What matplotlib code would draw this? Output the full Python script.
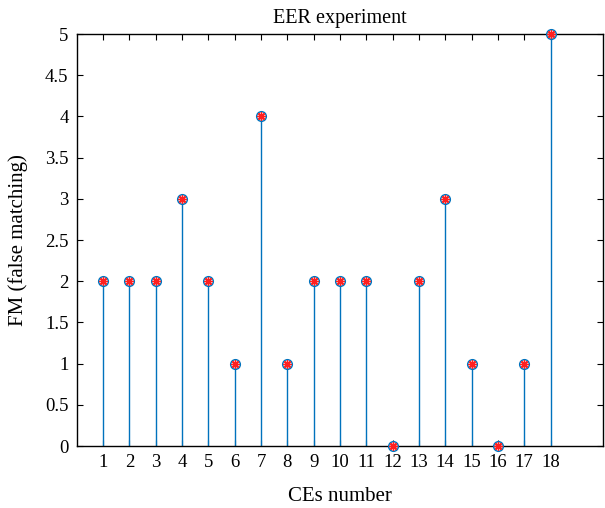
import numpy as np
import matplotlib
matplotlib.use('Agg')
import matplotlib.pyplot as plt

plt.rcParams['font.family'] = ['Liberation Serif', 'DejaVu Serif']

ces = np.arange(1, 19)
fm = [2, 2, 2, 3, 2, 1, 4, 1, 2, 2, 2, 0, 2, 3, 1, 0, 1, 5]

fig = plt.figure(figsize=(6.05, 5.08), dpi=100)
ax = fig.add_axes([0.127, 0.122, 0.870, 0.811])

ax.vlines(ces, 0, fm, color='#0072BD', linewidth=1.0, zorder=2)
ax.plot(ces, fm, 'o', markerfacecolor='none', markeredgecolor='#0072BD', markersize=7, markeredgewidth=1.0, zorder=3, clip_on=False)
ax.plot(ces, fm, marker=(8, 2, 0), linestyle='none', color='#FF2020', markersize=6, markeredgewidth=1.0, zorder=4, clip_on=False)

ax.set_xlim(0, 20)
ax.set_ylim(0, 5)
ax.set_xticks(ces)
ax.set_yticks(np.arange(0, 5.01, 0.5))
ax.set_yticklabels(['0', '0.5', '1', '1.5', '2', '2.5', '3', '3.5', '4', '4.5', '5'])
ax.tick_params(direction='in', top=True, right=True, labelsize=13.5, length=4, pad=6)
for s in ax.spines.values():
    s.set_linewidth(1.0)

ax.set_title('EER experiment', fontsize=14.5, pad=8)
ax.set_xlabel('CEs number', fontsize=15, labelpad=11)
ax.set_ylabel('FM (false matching)', fontsize=15, labelpad=12)

fig.savefig('out.png', dpi=100)
